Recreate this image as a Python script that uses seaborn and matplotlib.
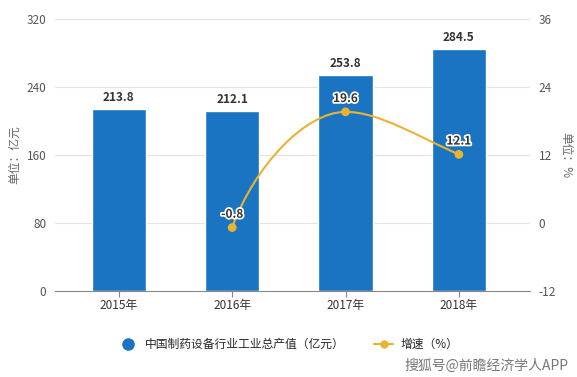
import numpy as np
import pandas as pd
import matplotlib
matplotlib.use('Agg')
import matplotlib.pyplot as plt
from matplotlib.path import Path
from matplotlib.patches import PathPatch
from matplotlib.lines import Line2D
import matplotlib.patheffects as pe
import seaborn as sns

# 数据
years = ['2015年', '2016年', '2017年', '2018年']
output_value = [213.8, 212.1, 253.8, 284.5]       # 亿元
growth_years = ['2016年', '2017年', '2018年']
growth_rate = [-0.8, 19.6, 12.1]                   # %

bar_color = '#1a74c2'
line_color = '#e9b332'

sns.set_theme(style='white')
plt.rcParams['font.family'] = ['Noto Sans CJK SC', 'DejaVu Sans']
plt.rcParams['axes.unicode_minus'] = False

df = pd.DataFrame({'year': years, 'value': output_value})

fig = plt.figure(figsize=(5.77, 3.77), dpi=100)
ax = fig.add_axes([0.095, 0.228, 0.824, 0.722])
sns.barplot(data=df, x='year', y='value', color=bar_color, width=0.48,
            saturation=1, ax=ax, zorder=2)
ax.set_ylim(0, 320)
ax.set_yticks([0, 80, 160, 240, 320])
ax.set_xlim(-0.565, 3.63)
ax.grid(axis='y', color='#e3e3e3', linewidth=0.8, zorder=0)
for s in ['top', 'right', 'left']:
    ax.spines[s].set_visible(False)
ax.spines['bottom'].set_color('#888888')
ax.spines['bottom'].set_linewidth(0.8)
ax.tick_params(axis='y', length=0, labelsize=8.5, colors='#555555', pad=6)
ax.tick_params(axis='x', length=4, width=0.8, colors='#888888', labelsize=8.5,
               labelcolor='#333333', bottom=True, pad=2)
ax.set_xlabel('')
ax.set_ylabel('单位：亿元', fontsize=8.5, color='#666666', labelpad=4)

for i, v in enumerate(output_value):
    ax.text(i, v + 6, f'{v:.1f}', ha='center', va='bottom', fontsize=8.5,
            fontweight='bold', color='#333333')

# 增速（右轴）
ax2 = ax.twinx()
ax2.set_ylim(-12, 36)
ax2.set_yticks([-12, 0, 12, 24, 36])
for s in ax2.spines.values():
    s.set_visible(False)
ax2.tick_params(axis='y', length=0, labelsize=8.5, colors='#555555', pad=6)
ax2.set_ylabel('单位：%', fontsize=8.5, color='#666666', rotation=-90, labelpad=12)

gx = [years.index(y) for y in growth_years]
# 平滑曲线（贝塞尔）
pts = list(zip(gx, growth_rate))
verts = [pts[0]]
codes = [Path.MOVETO]
for k in range(len(pts) - 1):
    p1, p2 = pts[k], pts[k + 1]
    if k == 0:
        c1 = (p1[0] + 0.2, p1[1] + 11)
        c2 = (p2[0] - 0.35, p2[1])
    else:
        c1 = (p1[0] + 0.3, p1[1])
        c2 = (p2[0] - 0.35, p2[1] + 3)
    verts += [c1, c2, p2]
    codes += [Path.CURVE4] * 3
ax2.add_patch(PathPatch(Path(verts, codes), facecolor='none',
                        edgecolor=line_color, linewidth=1.5, zorder=3))
sns.scatterplot(x=gx, y=growth_rate, color=line_color, s=40, edgecolor='none',
                ax=ax2, zorder=4)
for x, v in zip(gx, growth_rate):
    ax2.text(x, v + 1.2, f'{v:.1f}', ha='center', va='bottom', fontsize=8.5,
             fontweight='bold', color='#333333',
             path_effects=[pe.withStroke(linewidth=2.5, foreground='white')])

# 图例
handles = [
    Line2D([], [], marker='o', linestyle='none', color=bar_color, markersize=8),
    Line2D([], [], marker='o', color=line_color, markersize=5, linewidth=1.5),
]
fig.legend(handles, ['中国制药设备行业工业总产值（亿元）', '增速（%）'],
           loc='center', bbox_to_anchor=(0.5, 0.087), ncol=2, frameon=False,
           fontsize=8.5, handlelength=1.6, columnspacing=2.5, handletextpad=0.6)

fig.text(0.985, 0.03, '搜狐号@前瞻经济学人APP', ha='right', va='center',
         fontsize=10, color='#777777')

fig.savefig('out.png', dpi=100)
